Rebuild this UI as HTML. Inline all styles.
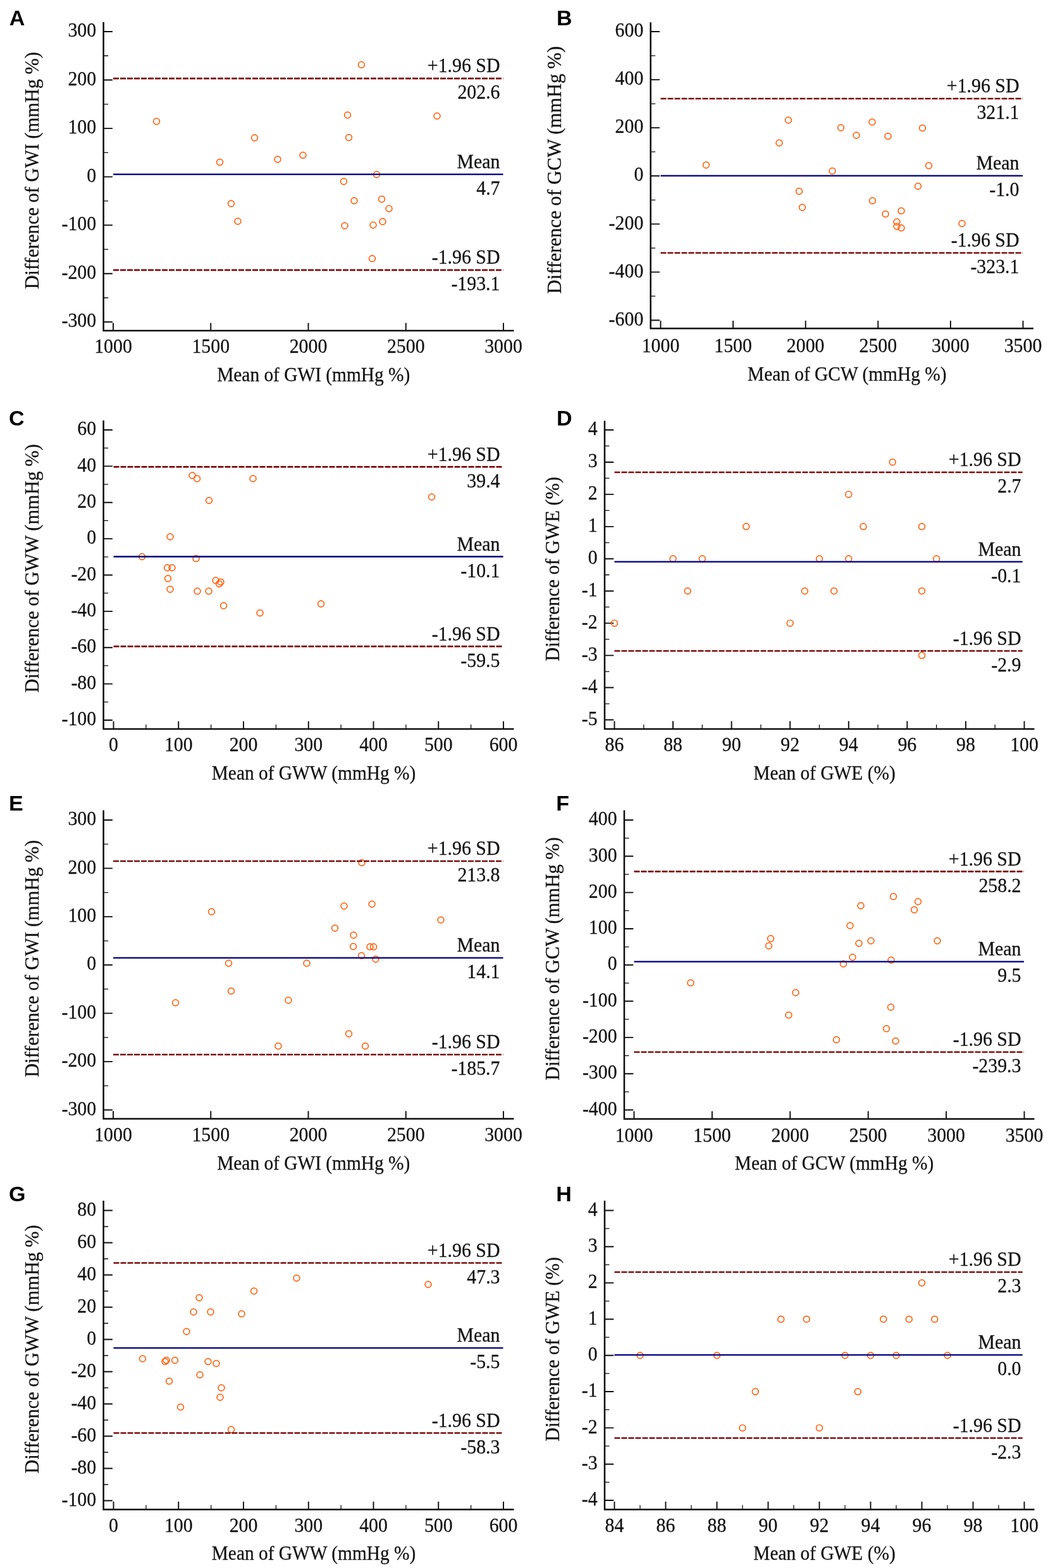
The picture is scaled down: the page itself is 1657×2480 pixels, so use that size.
<!DOCTYPE html>
<html lang="en">
<head>
<meta charset="utf-8">
<title>Bland-Altman plots</title>
<style>
html,body{margin:0;padding:0;background:#fff;}
body{width:1657px;height:2480px;overflow:hidden;}
svg{display:block;}
.t{font-family:"Liberation Serif", "DejaVu Serif", serif;font-size:30px;fill:#111;stroke:#111;stroke-width:0.25px;}
.e{text-anchor:end;}
.m{text-anchor:middle;}
.pl{font-family:"Liberation Sans", "DejaVu Sans", sans-serif;font-weight:700;font-size:34px;fill:#000;}
.ax{stroke:#0d0d0d;stroke-width:2.5;fill:none;stroke-linecap:butt;stroke-linejoin:miter;}
.mj{stroke:#0d0d0d;stroke-width:1.9;fill:none;}
.mn{stroke:#0d0d0d;stroke-width:1.3;fill:none;}
.sd{stroke:#7a0a0a;stroke-width:2.7;stroke-dasharray:9 2;fill:none;}
.mean{stroke:#0e0e86;stroke-width:2.6;fill:none;}
.pt{stroke:#ff6312;stroke-width:1.7;fill:none;}
</style>
</head>
<body>
<svg width="1657" height="2480" viewBox="0 0 1657 2480">
<rect x="0" y="0" width="1657" height="2480" fill="#ffffff"/>
<g id="panel-A">
<text class="pl" x="14.7" y="39.6">A</text>
<path class="ax" d="M163.6 35 V523 H812.5"/>
<path class="mj" d="M163.6 50h14.3M163.6 126.54h14.3M163.6 203.08h14.3M163.6 279.62h14.3M163.6 356.17h14.3M163.6 432.71h14.3M163.6 509.25h14.3"/>
<path class="mn" d="M163.6 470.98h7.5M163.6 394.44h7.5M163.6 317.9h7.5M163.6 241.35h7.5M163.6 164.81h7.5M163.6 88.27h7.5"/>
<path class="mj" d="M179 523v-12.3M333.25 523v-12.3M487.5 523v-12.3M641.75 523v-12.3M796 523v-12.3"/>
<text class="t e" transform="translate(152.2 58.2) scale(0.995 1.035)">300</text>
<text class="t e" transform="translate(152.2 134.74) scale(0.995 1.035)">200</text>
<text class="t e" transform="translate(152.2 211.28) scale(0.995 1.035)">100</text>
<text class="t e" transform="translate(152.2 287.82) scale(0.995 1.035)">0</text>
<text class="t e" transform="translate(152.2 364.37) scale(0.995 1.035)">-100</text>
<text class="t e" transform="translate(152.2 440.91) scale(0.995 1.035)">-200</text>
<text class="t e" transform="translate(152.2 517.45) scale(0.995 1.035)">-300</text>
<text class="t m" transform="translate(179 557.8) scale(0.995 1.035)">1000</text>
<text class="t m" transform="translate(333.25 557.8) scale(0.995 1.035)">1500</text>
<text class="t m" transform="translate(487.5 557.8) scale(0.995 1.035)">2000</text>
<text class="t m" transform="translate(641.75 557.8) scale(0.995 1.035)">2500</text>
<text class="t m" transform="translate(796 557.8) scale(0.995 1.035)">3000</text>
<text class="t m" transform="translate(495.75 603) scale(0.98 1.035)">Mean of GWI (mmHg %)</text>
<text class="t m" transform="translate(60.8 269.7) rotate(-90) scale(1.012 1.035)">Difference of GWI (mmHg %)</text>
<g class="pt">
<circle cx="247.5" cy="192" r="4.9"/>
<circle cx="347.5" cy="256.5" r="4.9"/>
<circle cx="365.5" cy="322" r="4.9"/>
<circle cx="376" cy="350" r="4.9"/>
<circle cx="402.5" cy="218" r="4.9"/>
<circle cx="439" cy="252" r="4.9"/>
<circle cx="479" cy="245.5" r="4.9"/>
<circle cx="543.5" cy="287" r="4.9"/>
<circle cx="545" cy="357" r="4.9"/>
<circle cx="549.5" cy="182" r="4.9"/>
<circle cx="551.5" cy="217.5" r="4.9"/>
<circle cx="560" cy="317.5" r="4.9"/>
<circle cx="571.5" cy="102.5" r="4.9"/>
<circle cx="588.5" cy="409" r="4.9"/>
<circle cx="590" cy="356" r="4.9"/>
<circle cx="595.5" cy="276" r="4.9"/>
<circle cx="603.5" cy="315" r="4.9"/>
<circle cx="605" cy="350.5" r="4.9"/>
<circle cx="615" cy="330" r="4.9"/>
<circle cx="691" cy="183.5" r="4.9"/>
</g>
<path class="sd" d="M179 124.2H795.5"/>
<path class="mean" d="M179 275.7H795.5"/>
<path class="sd" d="M179 427.2H795.5"/>
<text class="t e" transform="translate(790.5 114.4) scale(0.995 1.035)">+1.96 SD</text>
<text class="t e" transform="translate(790.5 156.4) scale(0.995 1.035)">202.6</text>
<text class="t e" transform="translate(790.5 265.9) scale(0.995 1.035)">Mean</text>
<text class="t e" transform="translate(790.5 307.9) scale(0.995 1.035)">4.7</text>
<text class="t e" transform="translate(790.5 417.4) scale(0.995 1.035)">-1.96 SD</text>
<text class="t e" transform="translate(790.5 459.4) scale(0.995 1.035)">-193.1</text>
</g>
<g id="panel-B">
<text class="pl" x="880" y="39.6">B</text>
<path class="ax" d="M1028.7 35.3 V519.6 H1634"/>
<path class="mj" d="M1028.7 50h14.3M1028.7 126.08h14.3M1028.7 202.17h14.3M1028.7 278.25h14.3M1028.7 354.33h14.3M1028.7 430.42h14.3M1028.7 506.5h14.3"/>
<path class="mn" d="M1028.7 468.46h7.5M1028.7 392.38h7.5M1028.7 316.29h7.5M1028.7 240.21h7.5M1028.7 164.12h7.5M1028.7 88.04h7.5"/>
<path class="mj" d="M1044.5 519.6v-12.3M1159.1 519.6v-12.3M1273.7 519.6v-12.3M1388.3 519.6v-12.3M1502.9 519.6v-12.3M1617.5 519.6v-12.3"/>
<text class="t e" transform="translate(1017.3 58.2) scale(0.995 1.035)">600</text>
<text class="t e" transform="translate(1017.3 134.28) scale(0.995 1.035)">400</text>
<text class="t e" transform="translate(1017.3 210.37) scale(0.995 1.035)">200</text>
<text class="t e" transform="translate(1017.3 286.45) scale(0.995 1.035)">0</text>
<text class="t e" transform="translate(1017.3 362.53) scale(0.995 1.035)">-200</text>
<text class="t e" transform="translate(1017.3 438.62) scale(0.995 1.035)">-400</text>
<text class="t e" transform="translate(1017.3 514.7) scale(0.995 1.035)">-600</text>
<text class="t m" transform="translate(1044.5 556.9) scale(0.995 1.035)">1000</text>
<text class="t m" transform="translate(1159.1 556.9) scale(0.995 1.035)">1500</text>
<text class="t m" transform="translate(1273.7 556.9) scale(0.995 1.035)">2000</text>
<text class="t m" transform="translate(1388.3 556.9) scale(0.995 1.035)">2500</text>
<text class="t m" transform="translate(1502.9 556.9) scale(0.995 1.035)">3000</text>
<text class="t m" transform="translate(1617.5 556.9) scale(0.995 1.035)">3500</text>
<text class="t m" transform="translate(1339.25 602.1) scale(0.98 1.035)">Mean of GCW (mmHg %)</text>
<text class="t m" transform="translate(886.6 268.75) rotate(-90) scale(1.03 1.035)">Difference of GCW (mmHg %)</text>
<g class="pt">
<circle cx="1116.5" cy="261" r="4.9"/>
<circle cx="1232" cy="226" r="4.9"/>
<circle cx="1246.5" cy="190" r="4.9"/>
<circle cx="1263.5" cy="302.5" r="4.9"/>
<circle cx="1268.5" cy="328" r="4.9"/>
<circle cx="1316" cy="270.5" r="4.9"/>
<circle cx="1329.5" cy="202" r="4.9"/>
<circle cx="1354" cy="214" r="4.9"/>
<circle cx="1379" cy="193" r="4.9"/>
<circle cx="1379.5" cy="317.5" r="4.9"/>
<circle cx="1400" cy="338.5" r="4.9"/>
<circle cx="1404" cy="215.5" r="4.9"/>
<circle cx="1418" cy="351" r="4.9"/>
<circle cx="1418" cy="358" r="4.9"/>
<circle cx="1425" cy="333.5" r="4.9"/>
<circle cx="1425" cy="360.5" r="4.9"/>
<circle cx="1451.5" cy="294.5" r="4.9"/>
<circle cx="1458.5" cy="202.5" r="4.9"/>
<circle cx="1468.5" cy="262" r="4.9"/>
<circle cx="1521" cy="353.5" r="4.9"/>
</g>
<path class="sd" d="M1044.5 156H1617"/>
<path class="mean" d="M1044.5 278H1617"/>
<path class="sd" d="M1044.5 400H1617"/>
<text class="t e" transform="translate(1611.5 146.2) scale(0.995 1.035)">+1.96 SD</text>
<text class="t e" transform="translate(1611.5 188.2) scale(0.995 1.035)">321.1</text>
<text class="t e" transform="translate(1611.5 268.2) scale(0.995 1.035)">Mean</text>
<text class="t e" transform="translate(1611.5 310.2) scale(0.995 1.035)">-1.0</text>
<text class="t e" transform="translate(1611.5 390.2) scale(0.995 1.035)">-1.96 SD</text>
<text class="t e" transform="translate(1611.5 432.2) scale(0.995 1.035)">-323.1</text>
</g>
<g id="panel-C">
<text class="pl" x="14" y="673.3">C</text>
<path class="ax" d="M163.6 665 V1153 H812.5"/>
<path class="mj" d="M163.6 680h14.3M163.6 737.38h14.3M163.6 794.75h14.3M163.6 852.12h14.3M163.6 909.5h14.3M163.6 966.88h14.3M163.6 1024.25h14.3M163.6 1081.62h14.3M163.6 1139h14.3"/>
<path class="mn" d="M163.6 1110.31h7.5M163.6 1052.94h7.5M163.6 995.56h7.5M163.6 938.19h7.5M163.6 880.81h7.5M163.6 823.44h7.5M163.6 766.06h7.5M163.6 708.69h7.5"/>
<path class="mj" d="M179.5 1153v-12.3M282.25 1153v-12.3M385 1153v-12.3M487.75 1153v-12.3M590.5 1153v-12.3M693.25 1153v-12.3M796 1153v-12.3"/>
<path class="mn" d="M230.88 1153v-7M333.62 1153v-7M436.38 1153v-7M539.12 1153v-7M641.88 1153v-7M744.62 1153v-7"/>
<text class="t e" transform="translate(152.2 688.2) scale(0.995 1.035)">60</text>
<text class="t e" transform="translate(152.2 745.58) scale(0.995 1.035)">40</text>
<text class="t e" transform="translate(152.2 802.95) scale(0.995 1.035)">20</text>
<text class="t e" transform="translate(152.2 860.33) scale(0.995 1.035)">0</text>
<text class="t e" transform="translate(152.2 917.7) scale(0.995 1.035)">-20</text>
<text class="t e" transform="translate(152.2 975.08) scale(0.995 1.035)">-40</text>
<text class="t e" transform="translate(152.2 1032.45) scale(0.995 1.035)">-60</text>
<text class="t e" transform="translate(152.2 1089.83) scale(0.995 1.035)">-80</text>
<text class="t e" transform="translate(152.2 1147.2) scale(0.995 1.035)">-100</text>
<text class="t m" transform="translate(179.5 1188) scale(0.995 1.035)">0</text>
<text class="t m" transform="translate(282.25 1188) scale(0.995 1.035)">100</text>
<text class="t m" transform="translate(385 1188) scale(0.995 1.035)">200</text>
<text class="t m" transform="translate(487.75 1188) scale(0.995 1.035)">300</text>
<text class="t m" transform="translate(590.5 1188) scale(0.995 1.035)">400</text>
<text class="t m" transform="translate(693.25 1188) scale(0.995 1.035)">500</text>
<text class="t m" transform="translate(796 1188) scale(0.995 1.035)">600</text>
<text class="t m" transform="translate(496 1233) scale(0.98 1.035)">Mean of GWW (mmHg %)</text>
<text class="t m" transform="translate(60.8 898.9) rotate(-90) scale(1.012 1.035)">Difference of GWW (mmHg %)</text>
<g class="pt">
<circle cx="224.5" cy="880.5" r="4.9"/>
<circle cx="264.5" cy="898" r="4.9"/>
<circle cx="265.5" cy="915" r="4.9"/>
<circle cx="269" cy="849" r="4.9"/>
<circle cx="269" cy="932" r="4.9"/>
<circle cx="272" cy="898" r="4.9"/>
<circle cx="304" cy="752" r="4.9"/>
<circle cx="310" cy="883.5" r="4.9"/>
<circle cx="311.5" cy="757" r="4.9"/>
<circle cx="312" cy="935" r="4.9"/>
<circle cx="330.5" cy="791.5" r="4.9"/>
<circle cx="330" cy="935" r="4.9"/>
<circle cx="341" cy="918" r="4.9"/>
<circle cx="346.5" cy="923.5" r="4.9"/>
<circle cx="349" cy="920.5" r="4.9"/>
<circle cx="353.5" cy="958" r="4.9"/>
<circle cx="400" cy="757" r="4.9"/>
<circle cx="411" cy="969.5" r="4.9"/>
<circle cx="507.5" cy="955" r="4.9"/>
<circle cx="682.5" cy="786" r="4.9"/>
</g>
<path class="sd" d="M179.5 738.4H795.5"/>
<path class="mean" d="M179.5 880.4H795.5"/>
<path class="sd" d="M179.5 1022.4H795.5"/>
<text class="t e" transform="translate(790.5 728.6) scale(0.995 1.035)">+1.96 SD</text>
<text class="t e" transform="translate(790.5 770.6) scale(0.995 1.035)">39.4</text>
<text class="t e" transform="translate(790.5 870.6) scale(0.995 1.035)">Mean</text>
<text class="t e" transform="translate(790.5 912.6) scale(0.995 1.035)">-10.1</text>
<text class="t e" transform="translate(790.5 1012.6) scale(0.995 1.035)">-1.96 SD</text>
<text class="t e" transform="translate(790.5 1054.6) scale(0.995 1.035)">-59.5</text>
</g>
<g id="panel-D">
<text class="pl" x="880" y="673">D</text>
<path class="ax" d="M956 665.5 V1152.9 H1635.5"/>
<path class="mj" d="M956 680h14.3M956 730.94h14.3M956 781.89h14.3M956 832.83h14.3M956 883.78h14.3M956 934.72h14.3M956 985.67h14.3M956 1036.61h14.3M956 1087.56h14.3M956 1138.5h14.3"/>
<path class="mn" d="M956 1113.03h7.5M956 1062.08h7.5M956 1011.14h7.5M956 960.19h7.5M956 909.25h7.5M956 858.31h7.5M956 807.36h7.5M956 756.42h7.5M956 705.47h7.5"/>
<path class="mj" d="M971.5 1152.9v-12.3M1064.07 1152.9v-12.3M1156.64 1152.9v-12.3M1249.21 1152.9v-12.3M1341.79 1152.9v-12.3M1434.36 1152.9v-12.3M1526.93 1152.9v-12.3M1619.5 1152.9v-12.3"/>
<path class="mn" d="M1017.79 1152.9v-7M1110.36 1152.9v-7M1202.93 1152.9v-7M1295.5 1152.9v-7M1388.07 1152.9v-7M1480.64 1152.9v-7M1573.21 1152.9v-7"/>
<text class="t e" transform="translate(944.6 688.2) scale(0.995 1.035)">4</text>
<text class="t e" transform="translate(944.6 739.14) scale(0.995 1.035)">3</text>
<text class="t e" transform="translate(944.6 790.09) scale(0.995 1.035)">2</text>
<text class="t e" transform="translate(944.6 841.03) scale(0.995 1.035)">1</text>
<text class="t e" transform="translate(944.6 891.98) scale(0.995 1.035)">0</text>
<text class="t e" transform="translate(944.6 942.92) scale(0.995 1.035)">-1</text>
<text class="t e" transform="translate(944.6 993.87) scale(0.995 1.035)">-2</text>
<text class="t e" transform="translate(944.6 1044.81) scale(0.995 1.035)">-3</text>
<text class="t e" transform="translate(944.6 1095.76) scale(0.995 1.035)">-4</text>
<text class="t e" transform="translate(944.6 1146.7) scale(0.995 1.035)">-5</text>
<text class="t m" transform="translate(971.5 1188.3) scale(0.995 1.035)">86</text>
<text class="t m" transform="translate(1064.07 1188.3) scale(0.995 1.035)">88</text>
<text class="t m" transform="translate(1156.64 1188.3) scale(0.995 1.035)">90</text>
<text class="t m" transform="translate(1249.21 1188.3) scale(0.995 1.035)">92</text>
<text class="t m" transform="translate(1341.79 1188.3) scale(0.995 1.035)">94</text>
<text class="t m" transform="translate(1434.36 1188.3) scale(0.995 1.035)">96</text>
<text class="t m" transform="translate(1526.93 1188.3) scale(0.995 1.035)">98</text>
<text class="t m" transform="translate(1619.5 1188.3) scale(0.995 1.035)">100</text>
<text class="t m" transform="translate(1303.5 1232.9) scale(0.98 1.035)">Mean of GWE (%)</text>
<text class="t m" transform="translate(883.7 899.9) rotate(-90) scale(1.012 1.035)">Difference of GWE (%)</text>
<g class="pt">
<circle cx="971.5" cy="985.67" r="4.9"/>
<circle cx="1064.07" cy="883.78" r="4.9"/>
<circle cx="1087.21" cy="934.72" r="4.9"/>
<circle cx="1110.36" cy="883.78" r="4.9"/>
<circle cx="1179.79" cy="832.83" r="4.9"/>
<circle cx="1249.21" cy="985.67" r="4.9"/>
<circle cx="1272.36" cy="934.72" r="4.9"/>
<circle cx="1295.5" cy="883.78" r="4.9"/>
<circle cx="1318.64" cy="934.72" r="4.9"/>
<circle cx="1341.79" cy="781.89" r="4.9"/>
<circle cx="1341.79" cy="883.78" r="4.9"/>
<circle cx="1364.93" cy="832.83" r="4.9"/>
<circle cx="1411.21" cy="730.94" r="4.9"/>
<circle cx="1457.5" cy="832.83" r="4.9"/>
<circle cx="1457.5" cy="934.72" r="4.9"/>
<circle cx="1457.5" cy="1036.61" r="4.9"/>
<circle cx="1480.64" cy="883.78" r="4.9"/>
</g>
<path class="sd" d="M971.5 747H1616.7"/>
<path class="mean" d="M971.5 888.5H1616.7"/>
<path class="sd" d="M971.5 1029.5H1616.7"/>
<text class="t e" transform="translate(1614.5 737.2) scale(0.995 1.035)">+1.96 SD</text>
<text class="t e" transform="translate(1614.5 779.2) scale(0.995 1.035)">2.7</text>
<text class="t e" transform="translate(1614.5 878.7) scale(0.995 1.035)">Mean</text>
<text class="t e" transform="translate(1614.5 920.7) scale(0.995 1.035)">-0.1</text>
<text class="t e" transform="translate(1614.5 1019.7) scale(0.995 1.035)">-1.96 SD</text>
<text class="t e" transform="translate(1614.5 1061.7) scale(0.995 1.035)">-2.9</text>
</g>
<g id="panel-E">
<text class="pl" x="14" y="1282.4">E</text>
<path class="ax" d="M163.6 1281.6 V1769.5 H812.5"/>
<path class="mj" d="M163.6 1297h14.3M163.6 1373.42h14.3M163.6 1449.83h14.3M163.6 1526.25h14.3M163.6 1602.67h14.3M163.6 1679.08h14.3M163.6 1755.5h14.3"/>
<path class="mn" d="M163.6 1717.29h7.5M163.6 1640.88h7.5M163.6 1564.46h7.5M163.6 1488.04h7.5M163.6 1411.62h7.5M163.6 1335.21h7.5"/>
<path class="mj" d="M179 1769.5v-12.3M333.25 1769.5v-12.3M487.5 1769.5v-12.3M641.75 1769.5v-12.3M796 1769.5v-12.3"/>
<text class="t e" transform="translate(152.2 1305.2) scale(0.995 1.035)">300</text>
<text class="t e" transform="translate(152.2 1381.62) scale(0.995 1.035)">200</text>
<text class="t e" transform="translate(152.2 1458.03) scale(0.995 1.035)">100</text>
<text class="t e" transform="translate(152.2 1534.45) scale(0.995 1.035)">0</text>
<text class="t e" transform="translate(152.2 1610.87) scale(0.995 1.035)">-100</text>
<text class="t e" transform="translate(152.2 1687.28) scale(0.995 1.035)">-200</text>
<text class="t e" transform="translate(152.2 1763.7) scale(0.995 1.035)">-300</text>
<text class="t m" transform="translate(179 1805.4) scale(0.995 1.035)">1000</text>
<text class="t m" transform="translate(333.25 1805.4) scale(0.995 1.035)">1500</text>
<text class="t m" transform="translate(487.5 1805.4) scale(0.995 1.035)">2000</text>
<text class="t m" transform="translate(641.75 1805.4) scale(0.995 1.035)">2500</text>
<text class="t m" transform="translate(796 1805.4) scale(0.995 1.035)">3000</text>
<text class="t m" transform="translate(495.75 1849.5) scale(0.98 1.035)">Mean of GWI (mmHg %)</text>
<text class="t m" transform="translate(60.8 1516.25) rotate(-90) scale(1.012 1.035)">Difference of GWI (mmHg %)</text>
<g class="pt">
<circle cx="277.5" cy="1586" r="4.9"/>
<circle cx="334.5" cy="1442" r="4.9"/>
<circle cx="361.5" cy="1523.5" r="4.9"/>
<circle cx="365.5" cy="1567.5" r="4.9"/>
<circle cx="440" cy="1654.5" r="4.9"/>
<circle cx="456" cy="1582" r="4.9"/>
<circle cx="485" cy="1523.5" r="4.9"/>
<circle cx="529.5" cy="1468" r="4.9"/>
<circle cx="544" cy="1433" r="4.9"/>
<circle cx="551.5" cy="1635" r="4.9"/>
<circle cx="558.5" cy="1497" r="4.9"/>
<circle cx="559" cy="1479" r="4.9"/>
<circle cx="571.5" cy="1511.5" r="4.9"/>
<circle cx="572" cy="1364.5" r="4.9"/>
<circle cx="577.5" cy="1654.5" r="4.9"/>
<circle cx="585" cy="1497.5" r="4.9"/>
<circle cx="590.6" cy="1497.5" r="4.9"/>
<circle cx="588" cy="1430" r="4.9"/>
<circle cx="594" cy="1517" r="4.9"/>
<circle cx="697" cy="1455" r="4.9"/>
</g>
<path class="sd" d="M179 1362H795.5"/>
<path class="mean" d="M179 1515H795.5"/>
<path class="sd" d="M179 1668H795.5"/>
<text class="t e" transform="translate(790.5 1352.2) scale(0.995 1.035)">+1.96 SD</text>
<text class="t e" transform="translate(790.5 1394.2) scale(0.995 1.035)">213.8</text>
<text class="t e" transform="translate(790.5 1505.2) scale(0.995 1.035)">Mean</text>
<text class="t e" transform="translate(790.5 1547.2) scale(0.995 1.035)">14.1</text>
<text class="t e" transform="translate(790.5 1658.2) scale(0.995 1.035)">-1.96 SD</text>
<text class="t e" transform="translate(790.5 1700.2) scale(0.995 1.035)">-185.7</text>
</g>
<g id="panel-F">
<text class="pl" x="879.3" y="1282.3">F</text>
<path class="ax" d="M987 1281.6 V1769.8 H1635.5"/>
<path class="mj" d="M987 1297h14.3M987 1354.31h14.3M987 1411.62h14.3M987 1468.94h14.3M987 1526.25h14.3M987 1583.56h14.3M987 1640.88h14.3M987 1698.19h14.3M987 1755.5h14.3"/>
<path class="mn" d="M987 1726.84h7.5M987 1669.53h7.5M987 1612.22h7.5M987 1554.91h7.5M987 1497.59h7.5M987 1440.28h7.5M987 1382.97h7.5M987 1325.66h7.5"/>
<path class="mj" d="M1002.5 1769.8v-12.3M1125.9 1769.8v-12.3M1249.3 1769.8v-12.3M1372.7 1769.8v-12.3M1496.1 1769.8v-12.3M1619.5 1769.8v-12.3"/>
<text class="t e" transform="translate(975.6 1305.2) scale(0.995 1.035)">400</text>
<text class="t e" transform="translate(975.6 1362.51) scale(0.995 1.035)">300</text>
<text class="t e" transform="translate(975.6 1419.83) scale(0.995 1.035)">200</text>
<text class="t e" transform="translate(975.6 1477.14) scale(0.995 1.035)">100</text>
<text class="t e" transform="translate(975.6 1534.45) scale(0.995 1.035)">0</text>
<text class="t e" transform="translate(975.6 1591.76) scale(0.995 1.035)">-100</text>
<text class="t e" transform="translate(975.6 1649.08) scale(0.995 1.035)">-200</text>
<text class="t e" transform="translate(975.6 1706.39) scale(0.995 1.035)">-300</text>
<text class="t e" transform="translate(975.6 1763.7) scale(0.995 1.035)">-400</text>
<text class="t m" transform="translate(1002.5 1805.7) scale(0.995 1.035)">1000</text>
<text class="t m" transform="translate(1125.9 1805.7) scale(0.995 1.035)">1500</text>
<text class="t m" transform="translate(1249.3 1805.7) scale(0.995 1.035)">2000</text>
<text class="t m" transform="translate(1372.7 1805.7) scale(0.995 1.035)">2500</text>
<text class="t m" transform="translate(1496.1 1805.7) scale(0.995 1.035)">3000</text>
<text class="t m" transform="translate(1619.5 1805.7) scale(0.995 1.035)">3500</text>
<text class="t m" transform="translate(1319 1850.2) scale(0.98 1.035)">Mean of GCW (mmHg %)</text>
<text class="t m" transform="translate(883.7 1516.4) rotate(-90) scale(1.012 1.035)">Difference of GCW (mmHg %)</text>
<g class="pt">
<circle cx="1092" cy="1554.5" r="4.9"/>
<circle cx="1215.5" cy="1496" r="4.9"/>
<circle cx="1218.5" cy="1484.5" r="4.9"/>
<circle cx="1247" cy="1605.5" r="4.9"/>
<circle cx="1258" cy="1570" r="4.9"/>
<circle cx="1322.5" cy="1644.5" r="4.9"/>
<circle cx="1333.5" cy="1524.5" r="4.9"/>
<circle cx="1344" cy="1464" r="4.9"/>
<circle cx="1348" cy="1514" r="4.9"/>
<circle cx="1358" cy="1492" r="4.9"/>
<circle cx="1361" cy="1432.5" r="4.9"/>
<circle cx="1377" cy="1488" r="4.9"/>
<circle cx="1401.5" cy="1627" r="4.9"/>
<circle cx="1408.5" cy="1593" r="4.9"/>
<circle cx="1409" cy="1518.5" r="4.9"/>
<circle cx="1412.5" cy="1418" r="4.9"/>
<circle cx="1416" cy="1646.5" r="4.9"/>
<circle cx="1445.5" cy="1439" r="4.9"/>
<circle cx="1451.5" cy="1426" r="4.9"/>
<circle cx="1482" cy="1488" r="4.9"/>
</g>
<path class="sd" d="M1002.5 1378.4H1619"/>
<path class="mean" d="M1002.5 1521H1619"/>
<path class="sd" d="M1002.5 1664H1619"/>
<text class="t e" transform="translate(1614.5 1368.6) scale(0.995 1.035)">+1.96 SD</text>
<text class="t e" transform="translate(1614.5 1410.6) scale(0.995 1.035)">258.2</text>
<text class="t e" transform="translate(1614.5 1511.2) scale(0.995 1.035)">Mean</text>
<text class="t e" transform="translate(1614.5 1553.2) scale(0.995 1.035)">9.5</text>
<text class="t e" transform="translate(1614.5 1654.2) scale(0.995 1.035)">-1.96 SD</text>
<text class="t e" transform="translate(1614.5 1696.2) scale(0.995 1.035)">-239.3</text>
</g>
<g id="panel-G">
<text class="pl" x="14" y="1900.4">G</text>
<path class="ax" d="M163.6 1899 V2387.4 H812.5"/>
<path class="mj" d="M163.6 1914.5h14.3M163.6 1965.5h14.3M163.6 2016.5h14.3M163.6 2067.5h14.3M163.6 2118.5h14.3M163.6 2169.5h14.3M163.6 2220.5h14.3M163.6 2271.5h14.3M163.6 2322.5h14.3M163.6 2373.5h14.3"/>
<path class="mn" d="M163.6 2348h7.5M163.6 2297h7.5M163.6 2246h7.5M163.6 2195h7.5M163.6 2144h7.5M163.6 2093h7.5M163.6 2042h7.5M163.6 1991h7.5M163.6 1940h7.5"/>
<path class="mj" d="M179.5 2387.4v-12.3M282.25 2387.4v-12.3M385 2387.4v-12.3M487.75 2387.4v-12.3M590.5 2387.4v-12.3M693.25 2387.4v-12.3M796 2387.4v-12.3"/>
<path class="mn" d="M230.88 2387.4v-7M333.62 2387.4v-7M436.38 2387.4v-7M539.12 2387.4v-7M641.88 2387.4v-7M744.62 2387.4v-7"/>
<text class="t e" transform="translate(152.2 1922.7) scale(0.995 1.035)">80</text>
<text class="t e" transform="translate(152.2 1973.7) scale(0.995 1.035)">60</text>
<text class="t e" transform="translate(152.2 2024.7) scale(0.995 1.035)">40</text>
<text class="t e" transform="translate(152.2 2075.7) scale(0.995 1.035)">20</text>
<text class="t e" transform="translate(152.2 2126.7) scale(0.995 1.035)">0</text>
<text class="t e" transform="translate(152.2 2177.7) scale(0.995 1.035)">-20</text>
<text class="t e" transform="translate(152.2 2228.7) scale(0.995 1.035)">-40</text>
<text class="t e" transform="translate(152.2 2279.7) scale(0.995 1.035)">-60</text>
<text class="t e" transform="translate(152.2 2330.7) scale(0.995 1.035)">-80</text>
<text class="t e" transform="translate(152.2 2381.7) scale(0.995 1.035)">-100</text>
<text class="t m" transform="translate(179.5 2422.7) scale(0.995 1.035)">0</text>
<text class="t m" transform="translate(282.25 2422.7) scale(0.995 1.035)">100</text>
<text class="t m" transform="translate(385 2422.7) scale(0.995 1.035)">200</text>
<text class="t m" transform="translate(487.75 2422.7) scale(0.995 1.035)">300</text>
<text class="t m" transform="translate(590.5 2422.7) scale(0.995 1.035)">400</text>
<text class="t m" transform="translate(693.25 2422.7) scale(0.995 1.035)">500</text>
<text class="t m" transform="translate(796 2422.7) scale(0.995 1.035)">600</text>
<text class="t m" transform="translate(496 2467.4) scale(0.98 1.035)">Mean of GWW (mmHg %)</text>
<text class="t m" transform="translate(60.8 2133.9) rotate(-90) scale(1.012 1.035)">Difference of GWW (mmHg %)</text>
<g class="pt">
<circle cx="225.5" cy="2149" r="4.9"/>
<circle cx="261" cy="2153.5" r="4.9"/>
<circle cx="263" cy="2151.5" r="4.9"/>
<circle cx="267.5" cy="2184.5" r="4.9"/>
<circle cx="276.5" cy="2151.5" r="4.9"/>
<circle cx="285.5" cy="2225.5" r="4.9"/>
<circle cx="295" cy="2106" r="4.9"/>
<circle cx="306" cy="2075" r="4.9"/>
<circle cx="315" cy="2052.5" r="4.9"/>
<circle cx="316" cy="2174.5" r="4.9"/>
<circle cx="329" cy="2153.5" r="4.9"/>
<circle cx="333" cy="2075" r="4.9"/>
<circle cx="342" cy="2156.5" r="4.9"/>
<circle cx="348" cy="2210" r="4.9"/>
<circle cx="350" cy="2195" r="4.9"/>
<circle cx="365.5" cy="2261" r="4.9"/>
<circle cx="382" cy="2078" r="4.9"/>
<circle cx="401.5" cy="2042" r="4.9"/>
<circle cx="469" cy="2021.5" r="4.9"/>
<circle cx="677" cy="2031.5" r="4.9"/>
</g>
<path class="sd" d="M179.5 1997.5H795.5"/>
<path class="mean" d="M179.5 2132H795.5"/>
<path class="sd" d="M179.5 2266.5H795.5"/>
<text class="t e" transform="translate(790.5 1987.7) scale(0.995 1.035)">+1.96 SD</text>
<text class="t e" transform="translate(790.5 2029.7) scale(0.995 1.035)">47.3</text>
<text class="t e" transform="translate(790.5 2122.2) scale(0.995 1.035)">Mean</text>
<text class="t e" transform="translate(790.5 2164.2) scale(0.995 1.035)">-5.5</text>
<text class="t e" transform="translate(790.5 2256.7) scale(0.995 1.035)">-1.96 SD</text>
<text class="t e" transform="translate(790.5 2298.7) scale(0.995 1.035)">-58.3</text>
</g>
<g id="panel-H">
<text class="pl" x="879.3" y="1900.3">H</text>
<path class="ax" d="M956 1899 V2387.4 H1635.5"/>
<path class="mj" d="M956 1914.5h14.3M956 1971.81h14.3M956 2029.12h14.3M956 2086.44h14.3M956 2143.75h14.3M956 2201.06h14.3M956 2258.38h14.3M956 2315.69h14.3M956 2373h14.3"/>
<path class="mn" d="M956 2344.34h7.5M956 2287.03h7.5M956 2229.72h7.5M956 2172.41h7.5M956 2115.09h7.5M956 2057.78h7.5M956 2000.47h7.5M956 1943.16h7.5"/>
<path class="mj" d="M971.5 2387.4v-12.3M1052.5 2387.4v-12.3M1133.5 2387.4v-12.3M1214.5 2387.4v-12.3M1295.5 2387.4v-12.3M1376.5 2387.4v-12.3M1457.5 2387.4v-12.3M1538.5 2387.4v-12.3M1619.5 2387.4v-12.3"/>
<path class="mn" d="M1012 2387.4v-7M1093 2387.4v-7M1174 2387.4v-7M1255 2387.4v-7M1336 2387.4v-7M1417 2387.4v-7M1498 2387.4v-7M1579 2387.4v-7"/>
<text class="t e" transform="translate(944.6 1922.7) scale(0.995 1.035)">4</text>
<text class="t e" transform="translate(944.6 1980.01) scale(0.995 1.035)">3</text>
<text class="t e" transform="translate(944.6 2037.33) scale(0.995 1.035)">2</text>
<text class="t e" transform="translate(944.6 2094.64) scale(0.995 1.035)">1</text>
<text class="t e" transform="translate(944.6 2151.95) scale(0.995 1.035)">0</text>
<text class="t e" transform="translate(944.6 2209.26) scale(0.995 1.035)">-1</text>
<text class="t e" transform="translate(944.6 2266.57) scale(0.995 1.035)">-2</text>
<text class="t e" transform="translate(944.6 2323.89) scale(0.995 1.035)">-3</text>
<text class="t e" transform="translate(944.6 2381.2) scale(0.995 1.035)">-4</text>
<text class="t m" transform="translate(971.5 2422.9) scale(0.995 1.035)">84</text>
<text class="t m" transform="translate(1052.5 2422.9) scale(0.995 1.035)">86</text>
<text class="t m" transform="translate(1133.5 2422.9) scale(0.995 1.035)">88</text>
<text class="t m" transform="translate(1214.5 2422.9) scale(0.995 1.035)">90</text>
<text class="t m" transform="translate(1295.5 2422.9) scale(0.995 1.035)">92</text>
<text class="t m" transform="translate(1376.5 2422.9) scale(0.995 1.035)">94</text>
<text class="t m" transform="translate(1457.5 2422.9) scale(0.995 1.035)">96</text>
<text class="t m" transform="translate(1538.5 2422.9) scale(0.995 1.035)">98</text>
<text class="t m" transform="translate(1619.5 2422.9) scale(0.995 1.035)">100</text>
<text class="t m" transform="translate(1303.5 2467.4) scale(0.98 1.035)">Mean of GWE (%)</text>
<text class="t m" transform="translate(883.7 2133.9) rotate(-90) scale(1.012 1.035)">Difference of GWE (%)</text>
<g class="pt">
<circle cx="1012" cy="2143.75" r="4.9"/>
<circle cx="1133.5" cy="2143.75" r="4.9"/>
<circle cx="1174" cy="2258.38" r="4.9"/>
<circle cx="1194.25" cy="2201.06" r="4.9"/>
<circle cx="1234.75" cy="2086.44" r="4.9"/>
<circle cx="1275.25" cy="2086.44" r="4.9"/>
<circle cx="1295.5" cy="2258.38" r="4.9"/>
<circle cx="1336" cy="2143.75" r="4.9"/>
<circle cx="1356.25" cy="2201.06" r="4.9"/>
<circle cx="1376.5" cy="2143.75" r="4.9"/>
<circle cx="1396.75" cy="2086.44" r="4.9"/>
<circle cx="1417" cy="2143.75" r="4.9"/>
<circle cx="1437.25" cy="2086.44" r="4.9"/>
<circle cx="1457.5" cy="2029.12" r="4.9"/>
<circle cx="1477.75" cy="2086.44" r="4.9"/>
<circle cx="1498" cy="2143.75" r="4.9"/>
</g>
<path class="sd" d="M971.5 2012H1616.7"/>
<path class="mean" d="M971.5 2143H1616.7"/>
<path class="sd" d="M971.5 2274.5H1616.7"/>
<text class="t e" transform="translate(1614.5 2002.2) scale(0.995 1.035)">+1.96 SD</text>
<text class="t e" transform="translate(1614.5 2044.2) scale(0.995 1.035)">2.3</text>
<text class="t e" transform="translate(1614.5 2133.2) scale(0.995 1.035)">Mean</text>
<text class="t e" transform="translate(1614.5 2175.2) scale(0.995 1.035)">0.0</text>
<text class="t e" transform="translate(1614.5 2264.7) scale(0.995 1.035)">-1.96 SD</text>
<text class="t e" transform="translate(1614.5 2306.7) scale(0.995 1.035)">-2.3</text>
</g>
</svg>
</body>
</html>
